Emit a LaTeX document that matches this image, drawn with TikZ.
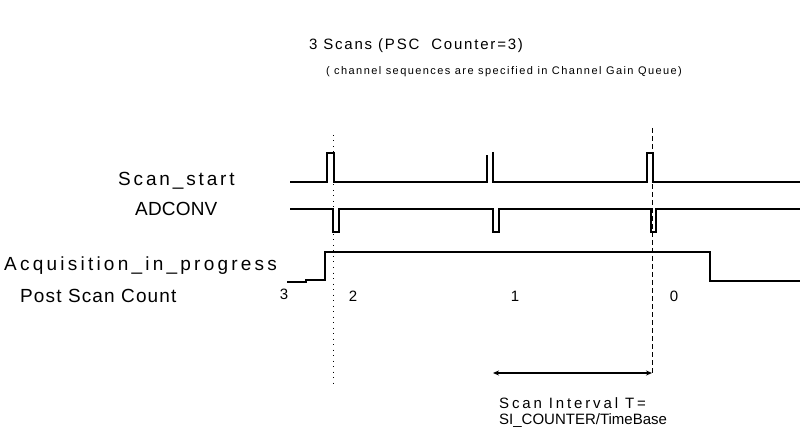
\documentclass[tikz,border=0pt]{standalone}
\usepackage{fontspec}
\setmainfont{Liberation Sans}[LetterSpace=12]
\newfontfamily\spA{Liberation Sans}[LetterSpace=17]
\newfontfamily\spB{Liberation Sans}[LetterSpace=15]
\newfontfamily\spC{Liberation Sans}[LetterSpace=1]
\newfontfamily\spD{Liberation Sans}[LetterSpace=6]
\newfontfamily\spE{Liberation Sans}[LetterSpace=13]
\newfontfamily\spF{Liberation Sans}[LetterSpace=19]
\newfontfamily\spG{Liberation Sans}[LetterSpace=0]
\usetikzlibrary{arrows.meta}
\begin{document}
\begin{tikzpicture}[x=1pt,y=-1pt,
  lbl/.style={inner sep=0pt,anchor=west},
  num/.style={inner sep=0pt,font=\fontsize{15}{17}\selectfont},
  sig/.style={line width=1.3pt},
  dim/.style={line width=1.2pt,{Stealth[length=6pt,width=5pt]}-{Stealth[length=6pt,width=5pt]}}]
\useasboundingbox (0,0) rectangle (800,430);
\node[inner sep=0pt,font=\fontsize{15}{17}\selectfont] (title) at (416,46) {3 Scans (PSC\ \ Counter=3)};
\node[inner sep=0pt,font=\spE\fontsize{11}{13}\selectfont] (note) at (504,72) {( channel sequences are specified in Channel Gain Queue)};
\node[lbl,font=\spB\fontsize{19}{21}\selectfont] (ss) at (118,181) {Scan\_start};
\node[lbl,font=\spC\fontsize{19}{21}\selectfont] (adc) at (135,209) {ADCONV};
\node[lbl,font=\spA\fontsize{19}{21}\selectfont] (acq) at (4,266) {Acquisition\_in\_progress};
\node[lbl,font=\spD\fontsize{19}{21}\selectfont] (psc) at (20,296) {Post Scan Count};
\node[num] (n3) at (284,294) {3};
\node[num] (n2) at (353,296) {2};
\node[num] (n1) at (515,296) {1};
\node[num] (n0) at (674,296) {0};
\node[lbl,font=\spF\fontsize{15}{17}\selectfont] (si1) at (499,403) {Scan Interval T=};
\node[lbl,font=\spG\fontsize{15}{17}\selectfont] (si2) at (499,421) {SI\_COUNTER/TimeBase};
% Scan_start
\draw[sig] (290,182) -- (327,182) -- (327,153) -- (334,153) -- (334,182) -- (487,182) -- (487,155);
\draw[sig] (493,152) -- (493,182) -- (647,182) -- (647,153) -- (653,153) -- (653,182) -- (800,182);
% ADCONV
\draw[sig] (290,209) -- (333,209) -- (333,232) -- (339,232) -- (339,209) -- (493,209) -- (493,232) -- (499,232) -- (499,209) -- (651,209) -- (651,232) -- (656,232) -- (656,209) -- (800,209);
% Acquisition
\draw[sig] (287,282) -- (306,282) -- (306,280) -- (325,280) -- (325,252) -- (710,252) -- (710,281) -- (800,281);
% markers
\draw[line width=1pt,dash pattern=on 1pt off 4.5pt] (333,135) -- (333,383);
\draw[line width=1pt,dash pattern=on 5pt off 3pt] (652,128) -- (652,375);
\coordinate (aL) at (493,373);
\coordinate (aR) at (652,373);
\draw[dim] (aL) -- (aR);
\end{tikzpicture}
\end{document}
